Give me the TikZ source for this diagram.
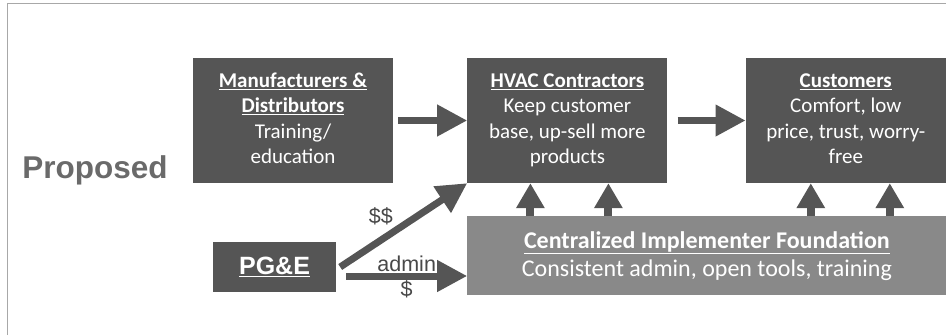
\documentclass[tikz,border=0pt]{standalone}
\usepackage{fontspec}
\setmainfont{Carlito}
\newfontfamily\arialfont{Liberation Sans}
\usetikzlibrary{arrows.meta, positioning}

\definecolor{darkfill}{HTML}{555555}
\definecolor{lightfill}{HTML}{898989}
\definecolor{titlegray}{HTML}{6A6A6A}
\definecolor{framegray}{HTML}{A8A8A8}

% box text hangs from the top of the party boxes
\newcommand{\toptext}[1]{\parbox[c][102pt][t]{196pt}{\centering\strut#1\strut}}
\newcommand{\head}[1]{\underline{\textbf{#1}}}

\begin{document}
\begin{tikzpicture}[
    x=1pt, y=-1pt,
    font=\fontsize{21}{25.5}\selectfont,
    node distance=33pt and 74pt,
    party/.style={fill=darkfill, text=white, minimum width=200pt, minimum height=125pt, inner sep=0pt},
    hub/.style={fill=lightfill, text=white, align=center, minimum width=479pt, minimum height=79pt, inner sep=0pt, font=\fontsize{24}{28}\selectfont},
    utility/.style={fill=darkfill, text=white, minimum width=123pt, minimum height=50pt, inner sep=0pt, font=\arialfont\bfseries\fontsize{25}{30}\selectfont},
    flow/.style={draw=darkfill, line width=7pt, -{Triangle[length=30pt, width=30pt]}},
    lift/.style={draw=darkfill, line width=8pt, -{Triangle[length=25pt, width=27pt]}},
    money/.style={text=darkfill!85!black, font=\arialfont\fontsize{21.5}{25}\selectfont, inner sep=1pt}
]
\useasboundingbox (0,0) rectangle (946,335);
\draw[framegray, line width=1pt] (7,335) -- (7,3) -- (946,3);

\node[text=titlegray, font=\arialfont\bfseries\fontsize{31.5}{38}\selectfont] (proposed) at (95,170) {Proposed};

\node[party] (mfr) at (293,120.5) {\toptext{\head{Manufacturers \&}\\\head{Distributors}\\Training/\\education}};
\node[party, right=of mfr] (hvac) {\toptext{\head{HVAC Contractors}\\Keep customer\\base, up-sell more\\products}};
\node[party, right=78pt of hvac] (cust) {\toptext{\head{Customers}\\Comfort, low\\price, trust, worry-\\free}};
\node[hub, below right=33pt and 0pt of hvac.south west] (cif) {\head{Centralized Implementer Foundation}\\Consistent admin, open tools, training};
\node[utility] (pge) at (274.5,267) {\underline{PG\&E}};

\draw[flow] ([xshift=5pt]mfr.east) -- (hvac.west);
\draw[flow] ([xshift=10pt]hvac.east) -- (cust.west);
\draw[flow] ([xshift=4pt]pge.east) -- node[money, pos=0.45, above left] {\$\$} (hvac.south west);
\draw[flow] ([shift={(10pt,-9pt)}]pge.east) -- node[money, above] {admin} node[money, below] {\$} ([yshift=-9pt]pge.east -| cif.west);

\draw[lift] ([xshift=-37pt]hvac.south |- cif.north) -- ([xshift=-37pt]hvac.south);
\draw[lift] ([xshift=41pt]hvac.south |- cif.north) -- ([xshift=41pt]hvac.south);
\draw[lift] ([xshift=-35pt]cust.south |- cif.north) -- ([xshift=-35pt]cust.south);
\draw[lift] ([xshift=44pt]cust.south |- cif.north) -- ([xshift=44pt]cust.south);
\end{tikzpicture}
\end{document}
